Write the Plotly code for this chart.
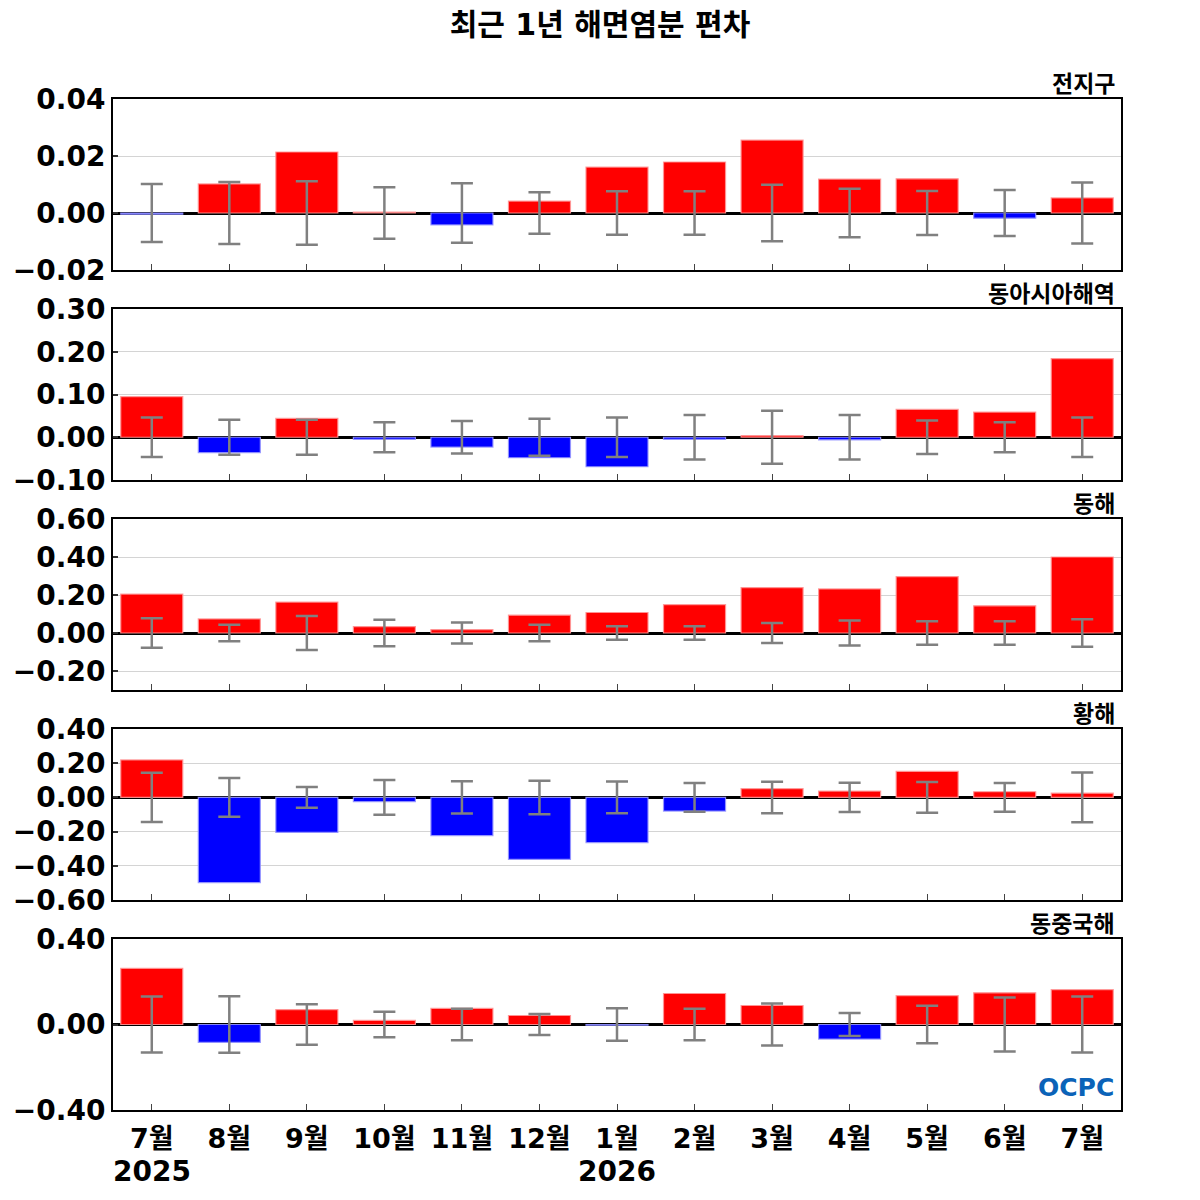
import plotly.graph_objects as go

# 월별 해면염분 편차 (psu), 2025년 7월 ~ 2026년 7월
months = ["7월", "8월", "9월", "10월", "11월", "12월", "1월",
          "2월", "3월", "4월", "5월", "6월", "7월"]
year_labels = ["2025", "2026"]
year_pos = [0, 6]

regions = ["전지구", "동아시아해역", "동해", "황해", "동중국해"]

global_anom = [-0.0004, 0.0102, 0.0214, 0.0003, -0.0042, 0.0042, 0.0161,
               0.0179, 0.0256, 0.0119, 0.0120, -0.0018, 0.0053]
global_sd = [0.0102, 0.0109, 0.0111, 0.0090, 0.0104, 0.0073, 0.0076,
             0.0076, 0.0099, 0.0085, 0.0077, 0.0081, 0.0107]

easia_anom = [0.095, -0.036, 0.044, -0.005, -0.023, -0.048, -0.069,
              -0.005, 0.004, -0.006, 0.065, 0.059, 0.184]
easia_sd = [0.046, 0.041, 0.041, 0.035, 0.038, 0.043, 0.046,
            0.052, 0.062, 0.052, 0.039, 0.035, 0.046]

east_anom = [0.205, 0.074, 0.163, 0.034, 0.018, 0.094, 0.108,
             0.149, 0.239, 0.232, 0.297, 0.143, 0.400]
east_sd = [0.077, 0.044, 0.089, 0.070, 0.055, 0.043, 0.036,
           0.036, 0.052, 0.066, 0.062, 0.062, 0.072]

yellow_anom = [0.219, -0.498, -0.205, -0.025, -0.223, -0.363, -0.264,
               -0.080, 0.051, 0.037, 0.152, 0.033, 0.025]
yellow_sd = [0.144, 0.113, 0.061, 0.102, 0.094, 0.098, 0.093,
             0.084, 0.092, 0.085, 0.090, 0.084, 0.145]

ecs_anom = [0.263, -0.084, 0.070, 0.019, 0.075, 0.042, -0.003,
            0.145, 0.089, -0.068, 0.135, 0.148, 0.163]
ecs_sd = [0.131, 0.132, 0.095, 0.060, 0.074, 0.049, 0.076,
          0.074, 0.098, 0.054, 0.088, 0.126, 0.131]

anoms = [global_anom, easia_anom, east_anom, yellow_anom, ecs_anom]
sds = [global_sd, easia_sd, east_sd, yellow_sd, ecs_sd]
y_ranges = [[-0.02, 0.04], [-0.1, 0.3], [-0.3, 0.6], [-0.6, 0.4], [-0.4, 0.4]]
y_dticks = [0.02, 0.1, 0.2, 0.2, 0.4]

W, H = 1200, 1200
OFF = 8  # page body margin: the figure is drawn 8px right/down on screen
LEFT, RIGHT, TOP, BOTTOM = 113 - OFF, 1121 - OFF, 99 - OFF, 1110 - OFF
PANEL_H, PANEL_GAP = 171, 39

FONT = "DejaVu Sans, Noto Sans CJK KR, sans-serif"


def frac(py):
    # screen pixel (y) -> paper fraction
    return (BOTTOM - (py - OFF)) / (BOTTOM - TOP)


def xfrac(px):
    return (px - OFF - LEFT) / (RIGHT - LEFT)


fig = go.Figure()
xs = list(range(len(months)))

for i, (vals, sd) in enumerate(zip(anoms, sds)):
    n = "" if i == 0 else str(i + 1)
    colors = ["#ff0000" if v >= 0 else "#0000ff" for v in vals]
    edges = ["rgba(255,150,150,0.9)" if v >= 0 else "rgba(150,150,255,0.9)" for v in vals]
    fig.add_trace(go.Bar(
        x=xs, y=vals, width=0.8,
        marker=dict(color=colors, line=dict(color=edges, width=1.2)),
        xaxis="x" + n, yaxis="y" + n, showlegend=False,
    ))
    fig.add_trace(go.Scatter(
        x=xs, y=[0] * len(xs), mode="markers",
        marker=dict(size=1, color="rgba(0,0,0,0)"),
        error_y=dict(type="data", array=sd, symmetric=True,
                     color="#808080", thickness=2.5, width=11),
        xaxis="x" + n, yaxis="y" + n, showlegend=False,
    ))

    top = 99 + i * (PANEL_H + PANEL_GAP)
    bot = top + PANEL_H
    dom = [frac(bot), frac(top)]
    last = i == len(anoms) - 1
    fig.update_layout(**{
        "xaxis" + n: dict(
            domain=[0, 1], anchor="y" + n, range=[-0.5, 12.5],
            tickmode="array", tickvals=xs, ticktext=months,
            showticklabels=last, ticks="inside", ticklen=6, tickwidth=1,
            tickcolor="#444444", showgrid=False, zeroline=False,
            showline=True, linecolor="black", linewidth=2, mirror=True,
            automargin=False, ticklabelstandoff=4,
            tickfont=dict(family=FONT, size=27, color="black", weight="bold"),
        ),
        "yaxis" + n: dict(
            domain=dom, anchor="x" + n, range=y_ranges[i],
            dtick=y_dticks[i], tick0=0, tickformat=".2f",
            ticks="inside", ticklen=5, tickwidth=2, tickcolor="#333333",
            showgrid=True, gridcolor="#d4d4d4", gridwidth=1,
            zeroline=True, zerolinecolor="black", zerolinewidth=3,
            showline=True, linecolor="black", linewidth=2, mirror=True,
            automargin=False,
            tickfont=dict(family=FONT, size=28, color="black", weight="bold"),
        ),
    })
    fig.add_annotation(
        text=regions[i], xref="paper", yref="paper",
        x=xfrac(1117), y=dom[1],
        xanchor="right", yanchor="bottom", yshift=0, showarrow=False,
        font=dict(family=FONT, size=23, color="black", weight="bold"),
    )

for yr, pos in zip(year_labels, year_pos):
    fig.add_annotation(
        text=yr, xref="x5", yref="paper", x=pos, y=frac(1171),
        xanchor="center", yanchor="middle", showarrow=False,
        font=dict(family=FONT, size=28, color="black", weight="bold"),
    )

fig.add_annotation(
    text="OCPC", xref="paper", yref="paper",
    x=xfrac(1116), y=frac(1087),
    xanchor="right", yanchor="middle", showarrow=False,
    font=dict(family="DejaVu Sans", size=25, color="#0b63b8", weight="bold"),
)

fig.update_layout(
    width=W, height=H,
    margin=dict(l=LEFT, r=W - RIGHT, t=TOP, b=H - BOTTOM),
    paper_bgcolor="white", plot_bgcolor="white",
    bargap=0.2,
    title=dict(text="최근 1년 해면염분 편차", xref="container", x=(600 - OFF) / W,
               xanchor="center", y=1 - 16 / H, yanchor="middle",
               font=dict(family=FONT, size=30, color="black", weight="bold")),
)

fig.write_html("out.html")
